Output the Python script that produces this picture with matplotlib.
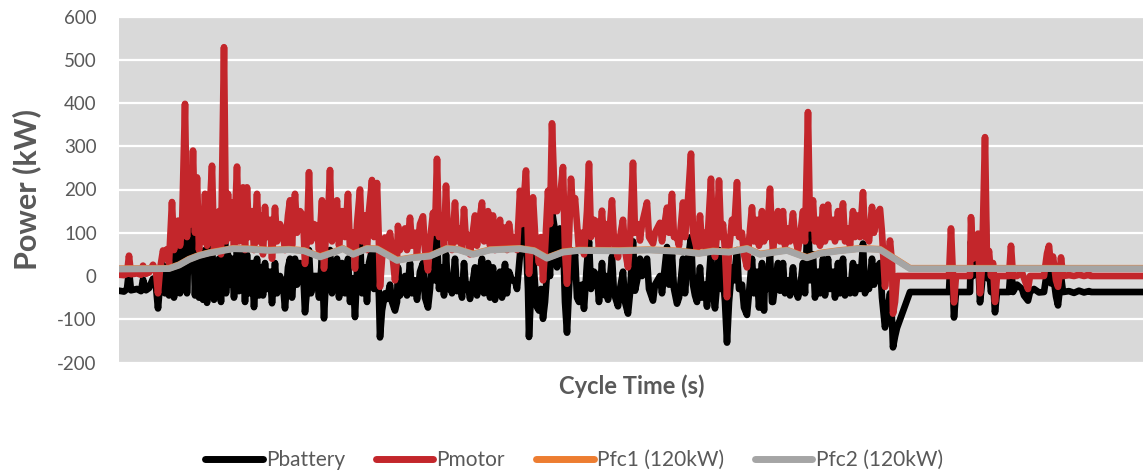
import matplotlib
matplotlib.use("Agg")
import matplotlib.pyplot as plt
from matplotlib.lines import Line2D

# ---------------- data ----------------
# cycle time (s) shared by Pbattery and Pmotor
cycle_time = [
    0, 5, 8, 10, 12, 18, 22, 24, 27, 30, 34, 37, 39, 41, 44, 46, 48, 50, 53, 55,
    57, 59, 61, 63, 66, 68, 70, 72, 74, 76, 78, 80, 82, 84, 86, 88, 90, 93, 95, 97,
    100, 102, 105, 107, 109, 111, 113, 115, 118, 120, 122, 124, 126, 128, 130, 133, 135, 138, 140, 142,
    144, 146, 148, 151, 153, 156, 158, 161, 164, 166, 169, 171, 173, 176, 178, 181, 184, 186, 188, 190,
    192, 195, 198, 200, 203, 205, 207, 209, 211, 213, 215, 218, 220, 223, 226, 229, 231, 234, 236, 238,
    241, 243, 246, 248, 250, 253, 255, 258, 260, 261, 263, 266, 268, 271, 273, 276, 278, 279, 281, 284,
    286, 288, 291, 293, 296, 298, 301, 304, 306, 309, 311, 314, 316, 318, 320, 323, 325, 327, 329, 331,
    333, 336, 338, 341, 343, 345, 347, 349, 351, 356, 358, 360, 363, 365, 369, 371, 374, 376, 381, 383,
    386, 388, 390, 393, 396, 398, 401, 403, 407, 409, 410, 412, 414, 416, 418, 420, 422, 424, 426, 429,
    431, 433, 436, 438, 441, 444, 446, 448, 450, 452, 454, 456, 458, 460, 463, 465, 468, 470, 472, 475,
    478, 480, 483, 485, 487, 489, 493, 495, 499, 501, 504, 506, 509, 511, 514, 516, 519, 521, 523, 528,
    530, 534, 536, 541, 543, 548, 550, 553, 555, 558, 560, 564, 566, 568, 572, 574, 576, 578, 581, 583,
    586, 588, 592, 594, 596, 598, 600, 602, 604, 606, 608, 610, 613, 615, 618, 620, 623, 625, 628, 630,
    633, 635, 638, 640, 643, 645, 646, 648, 651, 653, 654, 656, 659, 661, 664, 666, 669, 671, 674, 676,
    679, 681, 684, 686, 689, 691, 694, 696, 699, 701, 704, 706, 709, 711, 714, 716, 719, 721, 724, 726,
    729, 731, 734, 736, 739, 741, 744, 746, 748, 750, 753, 755, 758, 761, 763, 766, 768, 771, 773, 774,
    776, 778, 791, 830, 832, 834, 835, 837, 851, 852, 854, 857, 859, 861, 863, 866, 868, 870, 872, 874,
    876, 878, 890, 892, 894, 898, 903, 905, 909, 911, 915, 920, 925, 928, 930, 932, 934, 937, 939, 941,
    942, 944, 950, 955, 960, 965, 970, 972, 1024,
]

p_motor = [
    3, 2, 5, 47, 4, 6, 3, 24, 5, 8, 26, 10, -40, 15, 59, 40, 62, 30, 171, 60,
    100, 128, 70, 110, 398, 90, 237, 120, 290, 100, 228, 60, 150, 80, 190, 70, 120, 255, 60, 100,
    150, 50, 529, 80, 190, 90, 170, 70, 253, 80, 120, 205, 60, 205, 90, 150, 60, 190, 80, 140,
    50, 160, 90, 130, 40, 158, 80, 120, 98, 60, 140, 175, 70, 190, 100, 150, 140, 28, 90, 240,
    80, 120, 115, 60, 175, 17, 100, 130, 245, 80, 130, 175, 70, 150, 90, 190, 60, 100, 17, 120,
    200, 80, 140, 60, 150, 222, 90, 215, 70, -25, 40, 89, 50, 100, 60, -10, 40, 116, 60, 90,
    110, 60, 135, 70, 100, 50, 120, 138, 60, 13, 80, 146, 100, 271, 90, 140, 70, 209, 90, 110,
    60, 170, 80, 110, 60, 155, 80, 95, 50, 140, 70, 120, 170, 80, 150, 70, 140, 60, 130, 70,
    112, 60, 121, 70, 89, 60, 197, 120, 244, 80, 5, 90, 182, 100, 66, 30, 90, -10, 60, 197,
    120, 353, 150, 150, 180, 252, 60, -18, 90, 225, 150, 180, 121, 60, 100, 50, 150, 260, 90, 130,
    125, 60, 151, 70, 120, 60, 175, 80, 43, 90, 130, 60, 20, 80, 262, 100, 120, 82, 120, 170,
    90, 75, 100, 123, 80, 158, 100, 190, 90, 90, 70, 170, 90, 140, 283, 100, 80, 60, 140, 70,
    100, 60, 225, 80, 44, 100, 221, 90, 120, 60, -49, 60, 130, 100, 217, 90, 100, 50, 20, 80,
    159, 80, 130, 70, 150, 80, 136, 90, 202, 90, 59, 100, 150, 80, 150, 70, 110, 80, 145, 90,
    60, 90, 150, 80, 379, 110, 175, 80, 130, 70, 160, 80, 165, 90, 130, 80, 150, 90, 168, 80,
    110, 70, 150, 90, 140, 90, 194, 90, 100, 80, 160, 100, 140, 155, 100, -25, 20, 82, 30, -87,
    -60, 0, 0, 0, 110, 0, -61, 0, 0, 136, 40, 60, 98, -40, 20, 321, 30, 58, 0, 30,
    -60, 0, 0, 70, 0, 0, 8, -5, -30, 0, 0, 0, 0, 52, 70, 20, 45, -10, -25, 10,
    43, 0, 2, 0, 3, 0, 3, 0, 0,
]

p_battery = [
    -34, -36, -30, 12, -33, -30, -35, -8, -33, -28, -6, -25, -75, -20, 25, -40, 20, -45, 70, -50,
    40, 60, -40, 40, 200, -40, 90, 20, 120, -45, 80, -50, 50, -55, 60, -62, 20, 80, -55, 0,
    40, -60, 300, -40, 50, -20, 40, -50, 60, -35, 10, 50, -60, 50, -40, 30, -72, 40, -45, 20,
    -45, 30, -30, 10, -63, 30, -40, 0, -20, -75, 20, 40, -50, 40, -20, 30, 20, -84, -30, 60,
    -40, 0, 0, -50, 40, -98, 0, 20, 60, -40, 10, 40, -50, 30, -40, 40, -60, -5, -95, 10,
    98, -40, 20, -60, 30, 60, -30, 50, -50, -142, -80, -40, -53, -20, -60, -80, -60, 20, -45, -20,
    0, -45, 30, -40, -10, -55, 10, 30, -50, -73, -30, 93, -10, 90, -30, 20, -45, 50, -30, -10,
    -40, 40, -35, -10, -50, 30, -30, -20, -53, 20, -45, 0, 40, -40, 30, -50, 20, -55, 10, -50,
    28, -40, 10, -10, -10, -30, 50, 110, 80, -30, -141, -40, 50, -20, -72, -80, -30, -99, -60, 40,
    0, 150, 105, 20, 110, 90, -60, -131, -30, 60, 20, 50, -50, -60, -20, -76, 30, 80, -30, 10,
    0, -60, 30, -44, 0, -55, 45, -40, -70, -30, 10, -60, -87, -40, 80, -34, 0, 40, 0, 40,
    -30, -57, -20, 0, -40, 67, -20, 50, -30, -64, -50, 40, -40, 20, 90, -20, -45, -60, 20, -50,
    -20, -71, 60, -40, -75, -20, 60, -30, 0, -60, -154, -60, 20, -10, 60, -30, -20, -73, -90, -40,
    40, -40, 10, -73, 30, -80, 10, -30, 50, -60, -60, -20, 30, -34, 30, -40, -10, -45, 20, -30,
    -50, -30, 30, -40, 160, -10, 50, -50, 10, -40, 40, -45, 40, -30, 10, -50, 30, -40, 40, -45,
    -10, -40, 30, -40, 20, -30, 75, -40, -20, -30, 40, -20, 20, 30, -50, -119, -90, -40, -100, -165,
    -140, -120, -37, -37, 60, -37, -96, -37, -37, 80, 0, 20, 50, -61, -17, 200, -5, 20, -37, -5,
    -84, -37, -37, 25, -37, -20, -30, -45, -57, -37, -30, -38, -37, 10, 25, -17, 5, -47, -68, -27,
    0, -37, -35, -39, -34, -38, -35, -37, -37,
]

# fuel-cell powers (smooth), on their own time grid
fc_time = [0, 50, 60, 70, 80, 90, 100, 114, 130, 150, 170, 185, 201, 215, 224, 234, 248, 258,
           278, 294, 311, 328, 339, 354, 371, 401, 415, 428, 444, 460, 500, 530, 560, 580,
           594, 610, 628, 641, 668, 688, 701, 720, 741, 761, 791, 1024]
p_fc2 = [16, 17, 25, 38, 47, 53, 57, 63, 62, 59, 61, 58, 44, 55, 63, 50, 63, 62,
         36, 42, 46, 63, 61, 50, 60, 63, 58, 41, 55, 59, 58, 60, 57, 52,
         57, 55, 63, 50, 59, 42, 52, 58, 63, 61, 17, 17]
p_fc1 = [17, 18, 26, 39, 48, 54, 58, 64, 63, 60, 62, 59, 45, 56, 64, 51, 64, 63,
         37, 43, 47, 64, 62, 51, 61, 64, 59, 42, 56, 60, 59, 61, 58, 53,
         58, 56, 64, 51, 60, 43, 53, 59, 64, 62, 18, 18]

series_names = ["Pbattery", "Pmotor", "Pfc1 (120kW)", "Pfc2 (120kW)"]
series_colors = ["#000000", "#C3262B", "#ED7D31", "#A5A5A5"]
y_ticks = [-200, -100, 0, 100, 200, 300, 400, 500, 600]

# ---------------- figure ----------------
W, H = 1143, 475
fig = plt.figure(figsize=(W / 100, H / 100), dpi=100)
fig.patch.set_facecolor("white")
font = ["Lato", "DejaVu Sans"]
txt_color = "#595959"

ax = fig.add_axes([119 / W, 1 - 362.5 / H, 1 - 119 / W, (362.5 - 16.5) / H])
ax.set_facecolor("#D9D9D9")
for s in ax.spines.values():
    s.set_visible(False)

lw = 4.8
kw = dict(solid_joinstyle="round", solid_capstyle="round")
ax.plot(cycle_time, p_battery, color=series_colors[0], lw=lw, zorder=3, **kw)
ax.plot(cycle_time, p_motor, color=series_colors[1], lw=lw, zorder=4, **kw)
ax.plot(fc_time, p_fc1, color=series_colors[2], lw=lw, zorder=5, **kw)
ax.plot(fc_time, p_fc2, color=series_colors[3], lw=lw, zorder=6, **kw)

ax.set_xlim(0, 1024)
ax.set_ylim(-200, 600)
ax.set_yticks(y_ticks)
ax.set_yticklabels([str(v) for v in y_ticks], fontfamily=font, fontsize=13.5, color=txt_color)
ax.set_xticks([])
ax.tick_params(axis="y", length=0, pad=16)
ax.yaxis.grid(True, color="white", lw=1.6, zorder=1)
ax.set_axisbelow(True)

fig.text(27 / W, 1 - 189 / H, "Power (kW)", rotation=90, ha="center", va="center",
         fontsize=22, fontweight="bold", color=txt_color, fontfamily=font)
fig.text(632 / W, 1 - 386 / H, "Cycle Time (s)", ha="center", va="center",
         fontsize=17, fontweight="bold", color=txt_color, fontfamily=font)

handles = [Line2D([0], [0], color=c, lw=5, solid_capstyle="round") for c in series_colors]
leg = fig.legend(handles, series_names, loc="center", bbox_to_anchor=(574 / W, 1 - 460 / H),
                 ncol=4, frameon=False, handlelength=2.75, handletextpad=0.15,
                 columnspacing=1.5, prop={"family": font, "size": 15})
for t in leg.get_texts():
    t.set_color(txt_color)

fig.savefig("out.png", dpi=100, facecolor="white")
